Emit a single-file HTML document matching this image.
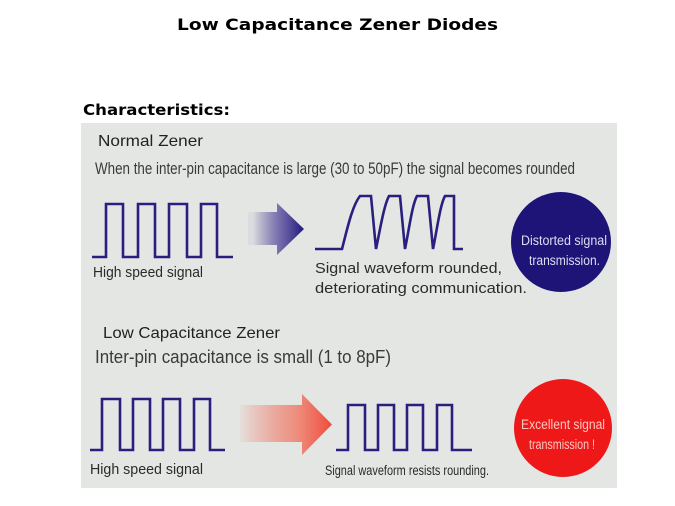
<!DOCTYPE html>
<html>
<head>
<meta charset="utf-8">
<style>
  html,body{margin:0;padding:0;background:#ffffff;}
  body{width:675px;height:506px;overflow:hidden;}
  svg{display:block;}
</style>
</head>
<body>
<svg width="675" height="506" viewBox="0 0 675 506" xmlns="http://www.w3.org/2000/svg">
  <defs>
    <linearGradient id="g1" x1="253" y1="0" x2="304" y2="0" gradientUnits="userSpaceOnUse">
      <stop offset="0" stop-color="#2a1f80" stop-opacity="0.05"/>
      <stop offset="0.55" stop-color="#4a3d96" stop-opacity="0.75"/>
      <stop offset="1" stop-color="#22177a" stop-opacity="1"/>
    </linearGradient>
    <linearGradient id="g2" x1="240" y1="0" x2="332" y2="0" gradientUnits="userSpaceOnUse">
      <stop offset="0" stop-color="#f0604a" stop-opacity="0.05"/>
      <stop offset="0.6" stop-color="#f07a66" stop-opacity="0.8"/>
      <stop offset="1" stop-color="#f04a3a" stop-opacity="1"/>
    </linearGradient>
  </defs>

  <!-- Title -->
  <text x="177" y="30" font-family="'DejaVu Sans', Verdana, sans-serif" font-weight="bold" font-size="16" textLength="321" lengthAdjust="spacingAndGlyphs" fill="#000">Low Capacitance Zener Diodes</text>
  <text x="83" y="115" font-family="'DejaVu Sans', Verdana, sans-serif" font-weight="bold" font-size="15" textLength="147" lengthAdjust="spacingAndGlyphs" fill="#000">Characteristics:</text>

  <!-- Panel -->
  <rect x="81" y="123" width="536" height="365" fill="#e4e6e4"/>

  <g font-family="'Liberation Sans', Arial, sans-serif">
    <text x="98" y="146" font-size="16" textLength="105" lengthAdjust="spacingAndGlyphs" fill="#222">Normal Zener</text>
    <text x="95" y="174" font-size="16.5" textLength="480" lengthAdjust="spacingAndGlyphs" fill="#3a3a3a">When the inter-pin capacitance is large (30 to 50pF) the signal becomes rounded</text>
    <text x="93" y="277" font-size="15" textLength="110" lengthAdjust="spacingAndGlyphs" fill="#2a2a2a">High speed signal</text>
    <text x="315" y="273" font-size="15" textLength="187" lengthAdjust="spacingAndGlyphs" fill="#2a2a2a">Signal waveform rounded,</text>
    <text x="315" y="293" font-size="15" textLength="212" lengthAdjust="spacingAndGlyphs" fill="#2a2a2a">deteriorating communication.</text>

    <text x="103" y="338" font-size="16" textLength="177" lengthAdjust="spacingAndGlyphs" fill="#222">Low Capacitance Zener</text>
    <text x="95" y="363" font-size="18" textLength="296" lengthAdjust="spacingAndGlyphs" fill="#3a3a3a">Inter-pin capacitance is small (1 to 8pF)</text>
    <text x="90" y="474" font-size="15" textLength="113" lengthAdjust="spacingAndGlyphs" fill="#2a2a2a">High speed signal</text>
    <text x="325" y="475" font-size="13.5" textLength="164" lengthAdjust="spacingAndGlyphs" fill="#2a2a2a">Signal waveform resists rounding.</text>
  </g>

  <!-- Top waveforms -->
  <path d="M92,257 L106,257 L106,204 L123,204 L123,257 L138,257 L138,204 L155,204 L155,257 L169,257 L169,204 L187,204 L187,257 L201,257 L201,204 L217,204 L217,257 L233,257" fill="none" stroke="#2a1f7e" stroke-width="2.6" stroke-linejoin="miter"/>
  <path d="M315,249 L342,249 C347,230 352,206 360,196 L371,196 L376,249 C380,230 384,205 389,196 L400,196 L405,249 C409,230 412,205 417,196 L428,196 L433,249 C437,230 440,205 445,196 L454,196 L454,249 L463,249" fill="none" stroke="#2a1f7e" stroke-width="2.6" stroke-linejoin="miter"/>

  <!-- Top arrow -->
  <path d="M248,212 L277,212 L277,203 L304,229 L277,255 L277,245 L248,245 Z" fill="url(#g1)"/>

  <!-- Top circle -->
  <circle cx="561" cy="242" r="50" fill="#1e1478"/>
  <g font-family="'Liberation Sans', Arial, sans-serif" font-size="13.5" fill="#dcdcf2">
    <text x="521" y="245" textLength="86" lengthAdjust="spacingAndGlyphs">Distorted signal</text>
    <text x="529" y="265" textLength="71" lengthAdjust="spacingAndGlyphs">transmission.</text>
  </g>

  <!-- Bottom waveforms -->
  <path d="M90,450 L102,450 L102,399 L120,399 L120,450 L133,450 L133,399 L150,399 L150,450 L163,450 L163,399 L180,399 L180,450 L194,450 L194,399 L210,399 L210,450 L225,450" fill="none" stroke="#2a1f7e" stroke-width="2.6"/>
  <path d="M336,450 L348,450 L348,405 L365,405 L365,450 L378,450 L378,405 L394,405 L394,450 L407,450 L407,405 L423,405 L423,450 L437,450 L437,405 L452,405 L452,450 L472,450" fill="none" stroke="#2a1f7e" stroke-width="2.6"/>

  <!-- Bottom arrow -->
  <path d="M240,405 L302,405 L302,394 L332,424.5 L302,455 L302,442 L240,442 Z" fill="url(#g2)"/>

  <!-- Bottom circle -->
  <circle cx="563" cy="428" r="49" fill="#ee1818"/>
  <g font-family="'Liberation Sans', Arial, sans-serif" font-size="13.5" fill="#f9c8c0">
    <text x="521" y="429" textLength="84" lengthAdjust="spacingAndGlyphs">Excellent signal</text>
    <text x="529" y="449" textLength="66" lengthAdjust="spacingAndGlyphs">transmission !</text>
  </g>
</svg>
</body>
</html>
